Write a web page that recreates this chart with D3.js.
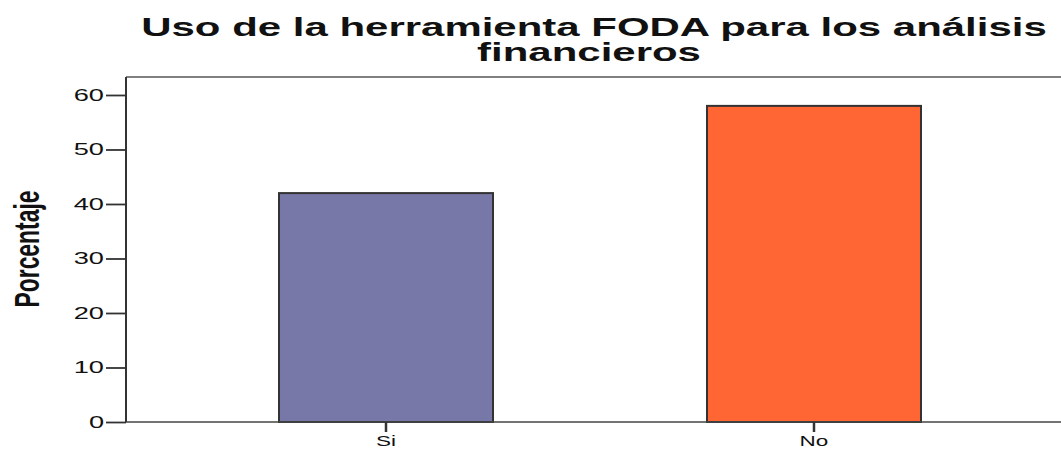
<!DOCTYPE html>
<html>
<head>
<meta charset="utf-8">
<script src="https://cdn.jsdelivr.net/npm/d3@7"></script>
<style>
  body { margin: 0; background: #fff; }
  text { font-family: "Liberation Sans", Arial, sans-serif; fill: #111; }
</style>
</head>
<body>
<div id="chart"></div>
<script>
// data
const categories = ["Si", "No"];
const values = [42, 58];
const colors = ["#7878a8", "#ff6633"];
const yTicks = [0, 10, 20, 30, 40, 50, 60];

const W = 1061, H = 452;
const plot = {left: 126, right: 1074, top: 77, bottom: 422};

const svg = d3.select("#chart").append("svg")
  .attr("width", W)
  .attr("height", H);

const xScale = d3.scaleBand()
  .domain(categories)
  .range([plot.left, plot.right])
  .paddingInner(0.5)
  .paddingOuter(0.3575);

const yScale = d3.scaleLinear()
  .domain([0, 63.3])
  .range([plot.bottom, plot.top]);

// the picture is stretched sideways, so small labels get widened too
const sx = 1.7;

// bars
svg.selectAll("rect.bar")
  .data(values)
  .join("rect")
  .attr("class", "bar")
  .attr("x", (d, i) => xScale(categories[i]))
  .attr("y", d => yScale(d))
  .attr("width", xScale.bandwidth())
  .attr("height", d => yScale(0) - yScale(d))
  .attr("fill", (d, i) => colors[i])
  .attr("stroke", "#333")
  .attr("stroke-width", 2);

// frame
svg.append("line")
  .attr("x1", plot.left).attr("x2", plot.right)
  .attr("y1", plot.top).attr("y2", plot.top)
  .attr("stroke", "#808080").attr("stroke-width", 2);
svg.append("line")
  .attr("x1", plot.left).attr("x2", plot.right)
  .attr("y1", plot.bottom).attr("y2", plot.bottom)
  .attr("stroke", "#444").attr("stroke-width", 1.5);
svg.append("line")
  .attr("x1", plot.left).attr("x2", plot.left)
  .attr("y1", plot.top).attr("y2", plot.bottom)
  .attr("stroke", "#333").attr("stroke-width", 2);

// y axis
const yAxis = d3.axisLeft(yScale).tickValues(yTicks).tickSize(20).tickPadding(2);
const y_axis = svg.append("g")
  .attr("transform", `translate(${plot.left},0)`)
  .call(yAxis);
y_axis.select(".domain").remove();
y_axis.selectAll(".tick line").attr("stroke", "#333").attr("stroke-width", 1.8);
y_axis.selectAll(".tick text")
  .attr("font-size", 16)
  .attr("font-family", "Liberation Sans, Arial, sans-serif")
  .attr("fill", "#222")
  .attr("x", -22 / sx)
  .attr("transform", `scale(${sx},1)`);

// x axis
const xAxis = d3.axisBottom(xScale).tickSize(10).tickPadding(3);
const x_axis = svg.append("g")
  .attr("transform", `translate(0,${plot.bottom})`)
  .call(xAxis);
x_axis.select(".domain").remove();
x_axis.selectAll(".tick line").attr("stroke", "#333").attr("stroke-width", 2.5);
x_axis.selectAll(".tick text")
  .attr("font-size", 15)
  .attr("font-family", "Liberation Sans, Arial, sans-serif")
  .attr("fill", "#222")
  .attr("transform", "scale(1.5,1)");

// stretch a text sideways so that it spans a given width
function fitText(sel, width) {
  const len = sel.node().getComputedTextLength();
  return width / len;
}

// title
const t1 = svg.append("g").attr("transform", "translate(594,36)");
const t1txt = t1.append("text")
  .attr("text-anchor", "middle")
  .attr("font-size", 25)
  .attr("font-weight", "bold")
  .text("Uso de la herramienta FODA para los análisis");
const ts = fitText(t1txt, 906);
t1txt.attr("transform", `scale(${ts},1)`);

svg.append("g").attr("transform", "translate(589,61)")
  .append("text")
  .attr("text-anchor", "middle")
  .attr("font-size", 25)
  .attr("font-weight", "bold")
  .attr("transform", `scale(${ts},1)`)
  .text("financieros");

// y label
const yl = svg.append("g");
const yltxt = yl.append("text")
  .attr("text-anchor", "middle")
  .attr("font-family", "Liberation Sans Narrow, Arial Narrow, Liberation Sans, sans-serif")
  .attr("font-weight", "bold")
  .attr("font-size", 24)
  .text("Porcentaje");
const ylen = yltxt.node().getComputedTextLength();
yl.attr("transform", `translate(39,249) scale(1.45,1) rotate(-90) scale(${117 / ylen},1)`);
</script>
</body>
</html>
